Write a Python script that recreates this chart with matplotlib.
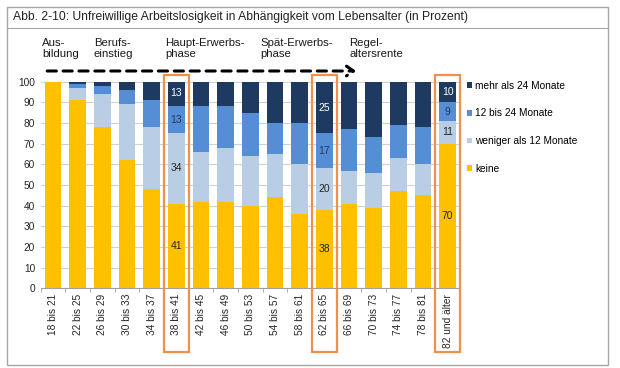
import numpy as np
import matplotlib.pyplot as plt
import matplotlib.transforms as mtrans
from matplotlib.patches import Rectangle, FancyArrowPatch

plt.rcParams['font.family'] = ['Liberation Sans', 'DejaVu Sans']

alter = ['18 bis 21', '22 bis 25', '26 bis 29', '30 bis 33', '34 bis 37', '38 bis 41',
         '42 bis 45', '46 bis 49', '50 bis 53', '54 bis 57', '58 bis 61', '62 bis 65',
         '66 bis 69', '70 bis 73', '74 bis 77', '78 bis 81', '82 und älter']
keine = [100, 91, 78, 62, 48, 41, 42, 42, 40, 44, 36, 38, 41, 39, 47, 45, 70]
weniger12 = [0, 6, 16, 27, 30, 34, 24, 26, 24, 21, 24, 20, 16, 17, 16, 15, 11]
m12bis24 = [0, 2, 4, 7, 13, 13, 22, 20, 21, 15, 20, 17, 20, 17, 16, 18, 9]
mehr24 = [0, 1, 2, 4, 9, 13, 12, 12, 15, 20, 20, 25, 23, 27, 21, 22, 10]
series = ['keine', 'weniger als 12 Monate', '12 bis 24 Monate', 'mehr als 24 Monate']
farben = ['#FFC000', '#B9CDE5', '#558ED5', '#1F3A60']
phasen = ['Aus-\nbildung', 'Berufs-\neinstieg', 'Haupt-Erwerbs-\nphase', 'Spät-Erwerbs-\nphase', 'Regel-\naltersrente']
phasen_x = [-0.45, 1.65, 4.55, 8.4, 12.0]
markiert = [5, 11, 16]

fig = plt.figure(figsize=(6.2, 3.68), dpi=100)
# outer frame and title line
fig.patches.append(Rectangle((7/620, 3/368), 601/620, 358/368, transform=fig.transFigure,
                             fill=False, edgecolor='#a6a6a6', lw=1.0))
fig.add_artist(plt.Line2D([7/620, 608/620], [1-28/368, 1-28/368], transform=fig.transFigure,
                          color='#a6a6a6', lw=0.8))
fig.text(13/620, 1-17/368, 'Abb. 2-10: Unfreiwillige Arbeitslosigkeit in Abhängigkeit vom Lebensalter (in Prozent)',
         fontsize=8.7, va='center', ha='left', color='#222222')

ax = fig.add_axes([40.7/620, 1-288.3/368, (460-40.7)/620, (288.3-81.7)/368])
x = np.arange(len(alter))
data = [keine, weniger12, m12bis24, mehr24]
unten = np.zeros(len(alter))
for werte, name, farbe in zip(data, series, farben):
    ax.bar(x, werte, 0.67, bottom=unten, color=farbe, label=name, zorder=2)
    unten = unten + np.array(werte)

# value labels in the marked bars
textfarben = ['#262626', '#262626', '#1F3A60', 'white']
for i in markiert:
    unten_i = 0
    for k, werte in enumerate(data):
        v = werte[i]
        ax.text(x[i], unten_i + v / 2, str(v), ha='center', va='center',
                fontsize=7.5, color=textfarben[k], zorder=3)
        unten_i += v

ax.set_xlim(-0.5, len(alter) - 0.5)
ax.set_ylim(0, 100)
ax.set_yticks(range(0, 101, 10))
ax.yaxis.grid(True, color='#d0d0d0', lw=0.8, zorder=0)
ax.set_axisbelow(True)
for s in ['top', 'right', 'left']:
    ax.spines[s].set_visible(False)
ax.spines['bottom'].set_color('#a0a0a0')
ax.set_xticks(x)
ax.set_xticklabels(alter, rotation=90, fontsize=7.3, color='#262626')
ax.set_xticks(np.arange(-0.5, len(alter), 1), minor=True)
ax.tick_params(axis='x', which='major', length=0, pad=4)
ax.tick_params(axis='x', which='minor', length=3, color='#a0a0a0')
ax.tick_params(axis='y', length=0, labelsize=7.3, labelcolor='#262626', pad=4)

# legend
h, l = ax.get_legend_handles_labels()
ax.legend(h[::-1], l[::-1], loc='upper left', bbox_to_anchor=(1.0, 1.04), frameon=False,
          fontsize=7.3, handlelength=0.5, handleheight=0.5, handletextpad=0.3,
          labelspacing=1.75, borderaxespad=0.3)

# orange boxes around marked bars
trans = mtrans.blended_transform_factory(ax.transData, fig.transFigure)
for i in markiert:
    ax.add_patch(Rectangle((x[i] - 0.5, 1 - 352/368), 1.0, (352 - 75)/368, transform=trans,
                           fill=False, edgecolor='#F0904A', lw=1.6, clip_on=False, zorder=4))

# phase labels and dashed arrow
for t, px in zip(phasen, phasen_x):
    ax.text(px, 1 - 48.5/368, t, transform=trans, fontsize=8.2, ha='left', va='center',
            color='#1a1a1a', linespacing=1.1)
arr = FancyArrowPatch((-0.35, 1 - 71/368), (12.4, 1 - 71/368), transform=trans,
                      arrowstyle='->,head_length=5,head_width=3.5', linestyle=(0, (3, 2.2)),
                      lw=2.2, color='black', clip_on=False, mutation_scale=1)
ax.add_patch(arr)

fig.savefig('out.png', dpi=100)
